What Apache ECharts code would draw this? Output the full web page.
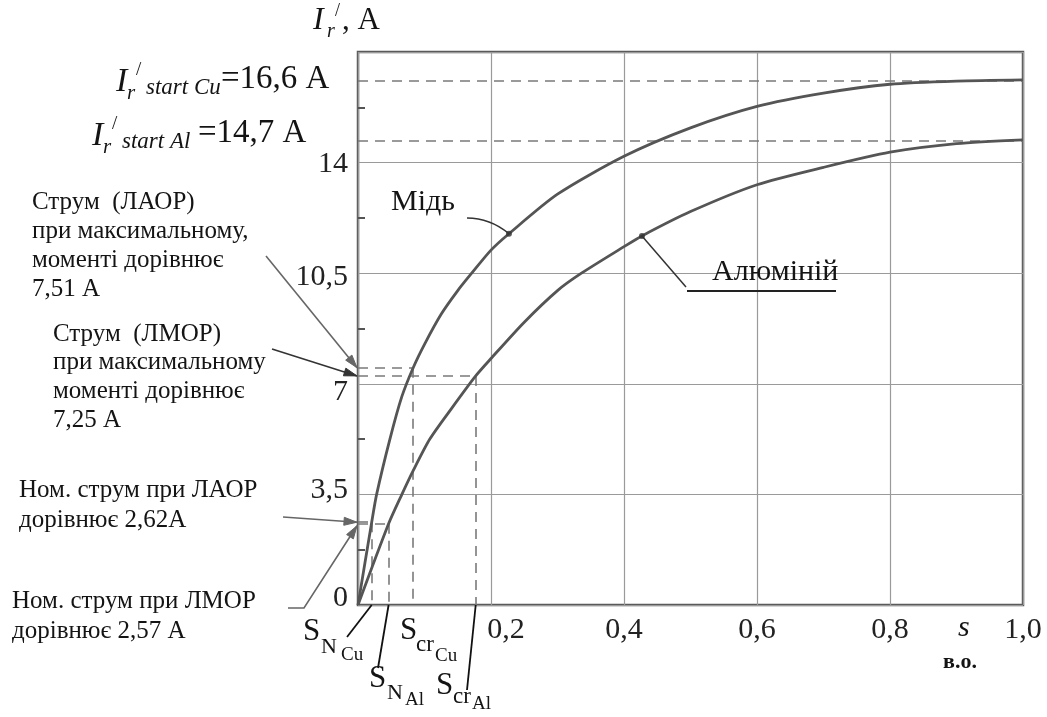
<!DOCTYPE html>
<html><head><meta charset="utf-8">
<script src="https://cdn.jsdelivr.net/npm/echarts@6/dist/echarts.min.js"></script>
<style>html,body{margin:0;padding:0;background:#fff}#c{width:1047px;height:717px}</style>
</head><body><div id="c"></div>
<script>
// ---- data ----
const sCu = [0, 0.0206, 0.028, 0.048, 0.066, 0.083, 0.1, 0.125, 0.15, 0.171, 0.2, 0.227, 0.3, 0.4, 0.5, 0.6, 0.7, 0.8, 0.9, 1.0];
const iCu = [0, 2.62, 3.5, 5.25, 6.6, 7.51, 8.25, 9.2, 9.95, 10.5, 11.23, 11.75, 13.0, 14.2, 15.1, 15.78, 16.2, 16.48, 16.58, 16.62];
const sAl = [0, 0.046, 0.066, 0.083, 0.108, 0.14, 0.177, 0.2, 0.25, 0.3, 0.336, 0.4, 0.427, 0.5, 0.6, 0.7, 0.8, 0.9, 1.0];
const iAl = [0, 2.57, 3.5, 4.25, 5.25, 6.2, 7.25, 7.8, 8.95, 9.95, 10.5, 11.34, 11.68, 12.45, 13.3, 13.85, 14.33, 14.6, 14.72];
const yTicks = [0, 3.5, 7, 10.5, 14, 17.5];
const xTicks = [0, 0.2, 0.4, 0.6, 0.8, 1.0];
const startCu = 16.6, startAl = 14.7;
const nomCu = [0.0206, 2.62], nomAl = [0.046, 2.57];
const crCu = [0.083, 7.51], crAl = [0.177, 7.25];
const markCu = [0.227, 11.75], markAl = [0.427, 11.68];

const F = "'Liberation Serif','Times New Roman',serif";
const comma = v => String(v).replace('.', ',');

const chart = echarts.init(document.getElementById('c'), null, {renderer: 'canvas'});
const dash = {type: [10, 7], color: '#7a7a7a', width: 1.6};
function seg(a, b) { return [{coord: a}, {coord: b}]; }
const yLab = {fontFamily: F, fontSize: 30, color: '#222'};

chart.setOption({
  backgroundColor: '#fff',
  animation: false,
  grid: {left: 358, right: 24, top: 52, bottom: 112, show: true, borderColor: '#5a5a5a', borderWidth: 2.5},
  xAxis: {
    type: 'value', min: xTicks[0], max: xTicks[xTicks.length - 1], interval: 0.2,
    axisLine: {show: false}, axisTick: {show: false},
    splitLine: {lineStyle: {color: '#9a9a9a', width: 1.2}},
    axisLabel: {
      fontFamily: F, fontSize: 30, color: '#222', margin: 10,
      formatter: v => v === 0 ? '' : (Math.abs(v - 0.2) < 1e-9 ? '{p|0,2}' : comma(v.toFixed(1))),
      rich: {p: {fontFamily: F, fontSize: 30, color: '#222', padding: [0, 0, 0, 30]}}
    }
  },
  yAxis: {
    type: 'value', min: yTicks[0], max: yTicks[yTicks.length - 1], interval: 3.5,
    axisLine: {show: false}, axisTick: {show: false, inside: true},
    minorTick: {show: true, splitNumber: 2, length: 7, lineStyle: {color: '#555', width: 2}},
    splitLine: {lineStyle: {color: '#9a9a9a', width: 1.2}},
    axisLabel: {fontFamily: F, fontSize: 30, color: '#222', margin: 10,
      formatter: v => {
        if (v === 17.5) return '';
        const k = {0: 'b', 3.5: 'c', 7: 'd', 10.5: 'e', 14: 'f'}[v] || 'f';
        return '{' + k + '|' + comma(v) + '}';
      },
      rich: {
        b: Object.assign({padding: [0, 0, 14, 0]}, yLab),
        c: Object.assign({padding: [0, 0, 8, 0]}, yLab),
        d: Object.assign({padding: [16, 0, 0, 0]}, yLab),
        e: Object.assign({padding: [8, 0, 0, 0]}, yLab),
        f: Object.assign({padding: [4, 0, 0, 0]}, yLab)
      }}
  },
  series: [
    {type: 'line', name: 'Cu', data: sCu.map((s, i) => [s, iCu[i]]), smooth: 0.25,
     showSymbol: false, lineStyle: {color: '#555', width: 2.8}, z: 5,
     markLine: {silent: true, symbol: ['none', 'none'], lineStyle: dash, label: {show: false},
       data: [
         seg([0, startCu], [1, startCu]), seg([0, startAl], [1, startAl]),
         seg([0, crCu[1]], crCu), seg(crCu, [crCu[0], 0]),
         seg([0, crAl[1]], crAl), seg(crAl, [crAl[0], 0]),
         seg([0, nomCu[1]], nomCu), seg(nomCu, [nomCu[0], 0]),
         seg([0, nomAl[1]], nomAl), seg(nomAl, [nomAl[0], 0])
       ]}},
    {type: 'line', name: 'Al', data: sAl.map((s, i) => [s, iAl[i]]), smooth: 0.25,
     showSymbol: false, lineStyle: {color: '#555', width: 2.8}, z: 5},
    {type: 'scatter', data: [markCu, markAl], symbolSize: 6, itemStyle: {color: '#333'}, z: 6}
  ]
});

// ---- annotations ----
const P = v => chart.convertToPixel({gridIndex: 0}, v);
function T(x, y, text, size, o) {
  o = o || {};
  const font = (o.italic ? 'italic ' : '') + (o.bold ? 'bold ' : '') + size + 'px ' + F;
  return {type: 'text', x: x, y: y, silent: true, z: 100,
    style: {text: text, font: font, fill: o.fill || '#141414', align: o.align || 'left', verticalAlign: 'middle',
            textAlign: o.align || 'left', textVerticalAlign: 'middle'}};
}
function L(pts, w, c) {
  return {type: 'polyline', silent: true, z: 90, shape: {points: pts}, style: {stroke: c || '#222', lineWidth: w || 1.5, fill: null}};
}
function A(pts, c) {
  const n = pts.length, p2 = pts[n - 1], p1 = pts[n - 2];
  const dx = p2[0] - p1[0], dy = p2[1] - p1[1], len = Math.hypot(dx, dy);
  const ux = dx / len, uy = dy / len, hl = 13, hw = 4;
  const bx = p2[0] - ux * hl, by = p2[1] - uy * hl;
  return [L(pts, 1.6, c),
    {type: 'polygon', silent: true, z: 91, shape: {points: [p2, [bx - uy * hw, by + ux * hw], [bx + uy * hw, by - ux * hw]]},
     style: {fill: c, stroke: c, lineWidth: 1}}];
}
const g = [];
// axis titles
g.push(T(313, 21, 'I', 32, {italic: true}), T(327, 32, 'r', 20, {italic: true}), T(335, 11, '/', 18),
       T(342, 21, ', A', 31));
g.push(T(958, 628, 's', 30, {italic: true}), T(943, 662, 'в.о.', 22, {bold: true}));
// start currents
g.push(T(116, 82, 'I', 34, {italic: true}), T(127, 93, 'r', 21, {italic: true}), T(136, 70, '/', 19),
       T(146, 88, 'start Cu', 23, {italic: true}), T(221, 79, '=16,6 A', 33));
g.push(T(92, 136, 'I', 34, {italic: true}), T(103, 147, 'r', 21, {italic: true}), T(112, 124, '/', 19),
       T(122, 142, 'start Al', 23, {italic: true}), T(198, 133, '=14,7 A', 33));
// left notes
['Струм  (ЛАОР)', 'при максимальному,', 'моменті дорівнює', '7,51 А'].forEach((t, i) => g.push(T(32, 202 + i * 29.3, t, 25)));
['Струм  (ЛМОР)', 'при максимальному', 'моменті дорівнює', '7,25 А'].forEach((t, i) => g.push(T(53, 334 + i * 28.7, t, 25)));
['Ном. струм при ЛАОР', 'дорівнює 2,62А'].forEach((t, i) => g.push(T(19, 490 + i * 30, t, 25)));
['Ном. струм при ЛМОР', 'дорівнює 2,57 А'].forEach((t, i) => g.push(T(12, 601 + i * 30, t, 25)));
const tCr = P([0, crCu[1]]), tCrA = P([0, crAl[1]]), tN = P([0, nomCu[1]]), tNA = P([0, nomAl[1]]);
g.push(...A([[266, 256], [tCr[0] - 1, tCr[1]]], '#666'));
g.push(...A([[272, 349], [tCrA[0] - 1, tCrA[1]]], '#333'));
g.push(...A([[283, 517], [tN[0] - 1, tN[1]]], '#666'));
g.push(...A([[288, 608], [304, 608], [tNA[0] - 1, tNA[1] + 2]], '#666'));
// slip labels
g.push(T(303, 632, 'S', 31), T(321, 647, 'N', 22), T(341, 655, 'Cu', 19));
g.push(L([P([nomCu[0], 0]), [347, 637]], 1.8, '#111'));
g.push(T(369, 679, 'S', 31), T(387, 693, 'N', 22), T(405, 700, 'Al', 19));
g.push(L([P([nomAl[0], 0]), [378, 668]], 1.8, '#111'));
g.push(T(400, 631, 'S', 31), T(416, 645, 'cr', 23), T(435, 656, 'Cu', 19));
g.push(T(436, 686, 'S', 31), T(453, 697, 'cr', 23), T(472, 704, 'Al', 19));
g.push(L([P([crAl[0], 0]), [467, 690]], 1.8, '#111'));
// curve names
const mC = P(markCu), mA = P(markAl);
g.push(T(391, 202, 'Мідь', 30));
g.push({type: 'bezierCurve', silent: true, z: 90, shape: {x1: 467, y1: 218, x2: mC[0], y2: mC[1], cpx1: 490, cpy1: 218},
        style: {stroke: '#333', lineWidth: 1.5, fill: null}});
g.push(T(712, 272, 'Алюміній', 30));
g.push(L([mA, [686, 287]], 1.5, '#333'), L([[687, 291], [836, 291]], 2, '#222'));

chart.setOption({graphic: g});
</script>
</body></html>
